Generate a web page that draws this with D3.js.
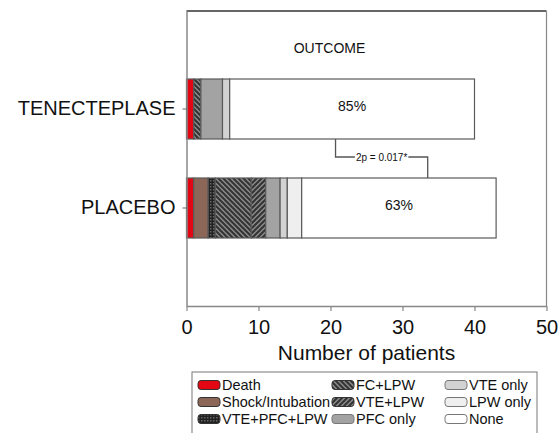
<!DOCTYPE html>
<html>
<head>
<meta charset="utf-8">
<style>
body { margin: 0; background: #fff; }
text { font-family: "Liberation Sans", Arial, sans-serif; fill: #111; }
</style>
<script src="https://cdn.jsdelivr.net/npm/d3@7"></script>
</head>
<body>
<svg width="560" height="433"></svg>
<script>

var categories = ["TENECTEPLASE", "PLACEBO"];
var outcomes = ["Death", "Shock/Intubation", "VTE+PFC+LPW", "FC+LPW", "VTE+LPW", "PFC only", "VTE only", "LPW only", "None"];
var tenecteplase = [1, 0, 0, 1, 0, 3, 1, 0, 34];
var placebo = [1, 2, 1, 5, 2, 2, 1, 2, 27];
var percentLabels = ["85%", "63%"];
var xTicks = [0, 10, 20, 30, 40, 50];
var pText = "2p = 0.017*";
var pBracket = [20.7, 33.5];   // x positions (patients) of the bracket legs

var fills = ["#e30613", "#8c6657", "url(#dots)", "url(#hatchB)", "url(#hatchF)", "#a3a3a3", "#d2d2d2", "#efefef", "#ffffff"];

var svg = d3.select("svg"),
    plotL = 186.5, plotR = 546.5, plotT = 11, plotB = 306;

var x = d3.scaleLinear().domain([0, 50]).range([plotL, plotR]);
var y = d3.scaleBand().domain(categories).range([plotT, plotB]).paddingInner(0.394).paddingOuter(0.687);

// patterns
var defs = svg.append("defs");
var dots = defs.append("pattern").attr("id", "dots").attr("patternUnits", "userSpaceOnUse")
    .attr("width", 3).attr("height", 3);
dots.append("rect").attr("width", 3).attr("height", 3).attr("fill", "#222");
dots.append("rect").attr("width", 1.5).attr("height", 1.5).attr("fill", "#666");

function hatch(id, d) {
  var p = defs.append("pattern").attr("id", id).attr("patternUnits", "userSpaceOnUse")
      .attr("width", 5).attr("height", 5);
  p.append("rect").attr("width", 5).attr("height", 5).attr("fill", "#8a8a8a");
  p.append("path").attr("d", d).attr("stroke", "#333").attr("stroke-width", 2);
}
hatch("hatchB", "M-1,-1 L6,6 M-1,4 L1,6 M4,-1 L6,1");
hatch("hatchF", "M-1,6 L6,-1 M-1,1 L1,-1 M4,6 L6,4");

// frame
svg.append("line").attr("x1", plotL).attr("x2", plotR).attr("y1", plotT).attr("y2", plotT)
    .attr("stroke", "#333").attr("stroke-width", 1.5);
svg.append("line").attr("x1", plotR).attr("x2", plotR).attr("y1", plotT).attr("y2", plotB)
    .attr("stroke", "#888").attr("stroke-width", 1.2);

// stacked bars
var rows = [tenecteplase, placebo];
rows.forEach(function(vals, i) {
  var cum = 0;
  var segs = vals.map(function(v, k) { var s = {k: k, x0: cum, x1: cum + v}; cum += v; return s; })
    .filter(function(s) { return s.x1 > s.x0; });
  svg.append("g").selectAll("rect").data(segs).enter().append("rect")
      .attr("x", function(d) { return x(d.x0); })
      .attr("y", y(categories[i]))
      .attr("width", function(d) { return x(d.x1) - x(d.x0); })
      .attr("height", y.bandwidth())
      .attr("fill", function(d) { return fills[d.k]; })
      .attr("stroke", "#5a5a5a")
      .attr("stroke-width", 1.2);
  var last = segs[segs.length - 1];
  svg.append("text")
      .attr("x", x((last.x0 + last.x1) / 2))
      .attr("y", y(categories[i]) + y.bandwidth() / 2 + 2)
      .attr("text-anchor", "middle")
      .style("font-size", "14px")
      .text(percentLabels[i]);
});

// axes
var xAxis = svg.append("g").attr("transform", "translate(0," + plotB + ")")
    .call(d3.axisBottom(x).tickValues(xTicks).tickSize(5).tickSizeOuter(0));
xAxis.select(".domain").attr("stroke", "#888").attr("stroke-width", 1.5);
xAxis.selectAll(".tick line").attr("stroke", "#888").attr("stroke-width", 1.2);
xAxis.selectAll(".tick text").attr("dy", 0).attr("y", 28)
    .style("font-size", "20px").style("font-family", "Liberation Sans, Arial, sans-serif").attr("fill", "#111");

var yAxis = svg.append("g").attr("transform", "translate(" + plotL + ",0)")
    .call(d3.axisLeft(y).tickSize(4).tickSizeOuter(0).tickPadding(7));
yAxis.select(".domain").attr("stroke", "#888").attr("stroke-width", 1.5);
yAxis.selectAll(".tick line").attr("stroke", "#666");
yAxis.selectAll(".tick text").style("font-size", "20px")
    .style("font-family", "Liberation Sans, Arial, sans-serif").attr("fill", "#111");

// titles
svg.append("text").attr("x", 329.5).attr("y", 53).attr("text-anchor", "middle")
    .style("font-size", "14px").text("OUTCOME");
svg.append("text").attr("x", (plotL + plotR) / 2).attr("y", 360).attr("text-anchor", "middle")
    .style("font-size", "21px").text("Number of patients");

// significance bracket
var yTopBar = y(categories[0]) + y.bandwidth(), yBotBar = y(categories[1]), yMid = 157;
var tc = (x(pBracket[0]) + x(pBracket[1])) / 2;
var pt = svg.append("text").attr("x", tc).attr("y", yMid + 3.5)
    .attr("text-anchor", "middle").style("font-size", "10px").text(pText);
var tw = pt.node().getComputedTextLength();
svg.append("path")
    .attr("d", "M" + x(pBracket[0]) + "," + yTopBar + "V" + yMid + "H" + (tc - tw / 2 - 1))
    .attr("fill", "none").attr("stroke", "#555").attr("stroke-width", 1.3);
svg.append("path")
    .attr("d", "M" + (tc + tw / 2 + 1) + "," + yMid + "H" + x(pBracket[1]) + "V" + yBotBar)
    .attr("fill", "none").attr("stroke", "#555").attr("stroke-width", 1.3);

// legend
var lg = svg.append("g");
lg.append("rect").attr("x", 192).attr("y", 372).attr("width", 345).attr("height", 80)
    .attr("fill", "#fff").attr("stroke", "#777").attr("stroke-width", 1);
var colX = [198, 332, 445], rowY = [385, 402, 419];
outcomes.forEach(function(name, k) {
  var cx = colX[Math.floor(k / 3)], cy = rowY[k % 3];
  lg.append("rect").attr("x", cx).attr("y", cy - 4.5).attr("width", 22).attr("height", 9)
      .attr("rx", 3).attr("fill", fills[k]).attr("stroke", k < 5 ? "#333" : "#777").attr("stroke-width", 1);
  lg.append("text").attr("x", cx + 24).attr("y", cy + 5)
      .style("font-size", "14.5px").text(name);
});

</script>
</body>
</html>
